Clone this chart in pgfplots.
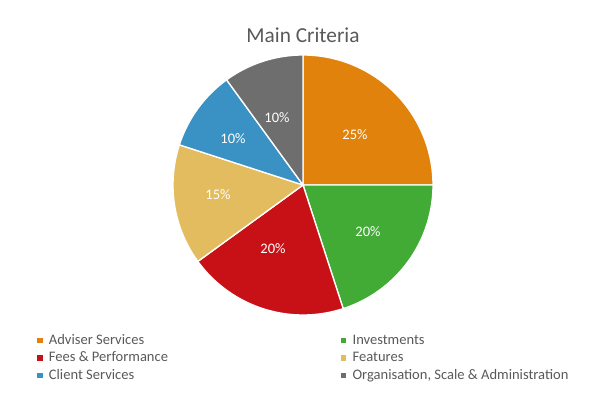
\documentclass[border=0pt]{standalone}
\usepackage{fontspec}
\setmainfont{Carlito}
\usepackage{pgfplots}
\pgfplotsset{compat=1.18}
\definecolor{cOrange}{HTML}{E0820B}
\definecolor{cGreen}{HTML}{41AB35}
\definecolor{cRed}{HTML}{C81116}
\definecolor{cYellow}{HTML}{E3BC5F}
\definecolor{cBlue}{HTML}{3A91C4}
\definecolor{cGray}{HTML}{6E6E6E}
\definecolor{txt}{HTML}{595959}
% shares (percent): Adviser 25, Investments 20, Fees 20, Features 15, Client 10, Organisation 10
\pgfplotsset{
  base/.style={
    scale only axis, width=453.75pt, height=299.25pt,
    xmin=0, xmax=605, ymin=0, ymax=399,
    hide axis, clip=false,
    legend image code/.code={\fill[##1, draw=none] (0pt,-2pt) rectangle (4pt,2pt);},
    legend cell align=left,
    legend style={draw=none, fill=none, inner sep=0pt, outer sep=0pt,
      font=\fontsize{10.9}{13}\selectfont, text=txt, row sep=2.6pt,
      nodes={inner sep=0pt, text height=8pt, text depth=2.5pt},
      /tikz/every odd column/.append style={column sep=4.7pt}},
  },
  slice/.style={draw=white, line width=1pt, samples=60, variable=\t, forget plot},
}
\newcommand{\slice}[3]{% color, start angle, end angle
  \addplot[slice, fill=#1, domain=#2:#3] ({303+130*cos(t)},{214+130*sin(t)}) -- (axis cs:303,214) -- cycle;
}
\begin{document}
\begin{tikzpicture}
\begin{axis}[base, legend style={at={(axis cs:37.3,65.4)}, anchor=north west}]
  \slice{cOrange}{90}{0}
  \slice{cGreen}{0}{-72}
  \slice{cRed}{-72}{-144}
  \slice{cYellow}{-144}{-198}
  \slice{cBlue}{-198}{-234}
  \slice{cGray}{-234}{-270}
  \begin{scope}[every node/.style={font=\fontsize{10.9}{13}\selectfont, text=white}]
  \node at (axis cs:355,264) {25\%};
  \node at (axis cs:368,167) {20\%};
  \node at (axis cs:273,150) {20\%};
  \node at (axis cs:218,204) {15\%};
  \node at (axis cs:233,260) {10\%};
  \node at (axis cs:277,281) {10\%};
  \end{scope}
  \node[font=\fontsize{16}{19}\selectfont, text=txt] at (axis cs:303,364) {Main Criteria};
  \addlegendimage{cOrange, fill=cOrange}\addlegendentry{Adviser Services}
  \addlegendimage{cRed, fill=cRed}\addlegendentry{Fees \& Performance}
  \addlegendimage{cBlue, fill=cBlue}\addlegendentry{Client Services}
  \path (axis cs:0,0) rectangle (axis cs:605,399);
\end{axis}
\begin{axis}[base, legend style={at={(axis cs:341,65.4)}, anchor=north west}]
  \addlegendimage{cGreen, fill=cGreen}\addlegendentry{Investments}
  \addlegendimage{cYellow, fill=cYellow}\addlegendentry{Features}
  \addlegendimage{cGray, fill=cGray}\addlegendentry{Organisation, Scale \& Administration}
\end{axis}
\end{tikzpicture}
\end{document}
